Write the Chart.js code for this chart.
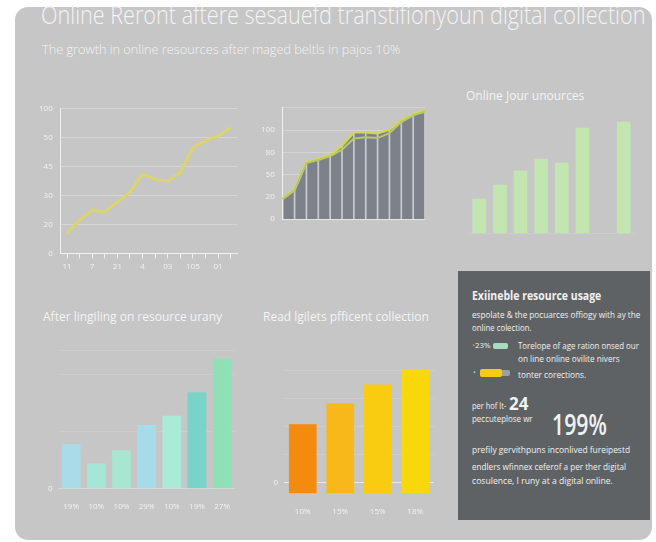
<!DOCTYPE html>
<html>
<head>
<meta charset="utf-8">
<script src="https://cdn.jsdelivr.net/npm/chart.js@4/dist/chart.umd.min.js"></script>
<style>
  html, body { margin: 0; padding: 0; background: #ffffff; }
  body { width: 656px; height: 542px; position: relative; overflow: hidden; font-family: "Open Sans", sans-serif; }
  #panel { position: absolute; left: 15px; top: 7px; width: 637px; height: 533px; background: #c6c6c6; border-radius: 13px; overflow: hidden; }
  .abs { position: absolute; }
  .txt { color: #f4f4f4; white-space: nowrap; line-height: 1; transform-origin: left top; }
  #title { left: 41px; top: 2px; font-size: 25px; font-weight: 300; }
  #subtitle { left: 42px; top: 44px; font-size: 12px; font-weight: 300; }
  .ctitle { font-size: 12px; font-weight: 400; }
  #dark { left: 458px; top: 271px; width: 192px; height: 249px; background: #5e6265; }
  #dark .txt { position: absolute; color: #f2f2f2; font-size: 9px; }
  .sw { position: absolute; border-radius: 2px; }
  canvas { position: absolute; }
</style>
</head>
<body>
<div id="panel"></div>
<div id="title" class="abs txt" data-w="604">Online Reront aftere sesauefd transtifionyoun digital collection</div>
<div id="subtitle" class="abs txt" data-w="358">The growth in online resources after maged beltls in pajos 10%</div>

<canvas id="c1" style="left:31px;top:96px" width="212" height="180"></canvas>
<canvas id="c2" style="left:253px;top:95px" width="172" height="137"></canvas>

<div class="abs txt ctitle" style="left:466px;top:90px">Online Jour unources</div>
<canvas id="c3" style="left:469px;top:115px" width="165" height="126"></canvas>

<div class="abs txt ctitle" style="left:43px;top:311px">After lingiling on resource urany</div>
<canvas id="c4" style="left:42px;top:340px" width="194" height="178"></canvas>

<div class="abs txt ctitle" style="left:263px;top:311px">Read lgilets pfficent collection</div>
<canvas id="c5" style="left:262px;top:349px" width="172" height="174"></canvas>

<div id="dark" class="abs">
  <div class="txt" style="left:14px;top:18px;font-size:13px;font-weight:700" data-w="129">Exiineble resource usage</div>
  <div class="txt" style="left:14px;top:39px" data-w="168">espolate &amp; the pocuarces offiogy with ay the</div>
  <div class="txt" style="left:14px;top:52px" data-w="60">online colection.</div>
  <div class="txt" style="left:14px;top:71px;font-size:7.5px" data-w="19"><span style="color:#e0a030">•</span>23%</div>
  <div class="sw" style="left:35px;top:72px;width:15px;height:6px;background:#a8dcc0"></div>
  <div class="txt" style="left:60px;top:70px" data-w="121">Torelope of age ration onsed our</div>
  <div class="txt" style="left:60px;top:83px" data-w="102">on line online ovilite nivers</div>
  <div class="txt" style="left:15px;top:97px;font-size:8px;color:#9cc8e0">•</div>
  <div class="sw" style="left:22px;top:99px;width:30px;height:6px;background:#a0a0a0"></div>
  <div class="sw" style="left:22px;top:98px;width:22px;height:8px;background:#f4cc10"></div>
  <div class="txt" style="left:60px;top:99px" data-w="68">tonter corections.</div>
  <div class="txt" style="left:14px;top:130px" data-w="34">per hof lt-</div>
  <div class="txt" style="left:51px;top:124px;font-size:17px;font-weight:700">24</div>
  <div class="txt" style="left:14px;top:143px" data-w="61">peccuteplose wr</div>
  <div class="txt" style="left:94px;top:138px;font-size:29px;font-weight:600" data-w="55">199%</div>
  <div class="txt" style="left:14px;top:174px" data-w="158">prefily gervithpuns inconlived fureipestd</div>
  <div class="txt" style="left:14px;top:191px" data-w="154">endlers wfinnex ceferof a per ther digital</div>
  <div class="txt" style="left:14px;top:205px" data-w="141">cosulence, I runy at a digital online.</div>
</div>

<script>
// chart 1: growth line
const growthLabels = ["11", "", "7", "", "21", "", "4", "", "03", "", "105", "", "01", ""];
const growthValues = [0.7, 1.15, 1.5, 1.43, 1.78, 2.12, 2.74, 2.56, 2.5, 2.8, 3.66, 3.9, 4.06, 4.35];
const growthTicks = ["0", "20", "30", "45", "50", "100"];

// chart 2: area
const areaLabels = ["", "", "", "", "", "", "", "", "", "", "", "", ""];
const areaUpper = [0.93, 1.36, 2.57, 2.71, 2.86, 3.3, 3.9, 3.9, 3.86, 4.02, 4.43, 4.72, 4.88];
const areaLower = [0.9, 1.3, 2.52, 2.66, 2.82, 3.12, 3.62, 3.68, 3.64, 3.86, 4.36, 4.66, 4.82];
const areaTicks = ["0", "20", "50", "80", "100"];

// chart 3: green bars
const jourLabels = ["a", "b", "c", "d", "e", "f", "g", "h"];
const jourValues = [34, 48, 62, 74, 70, 105, null, 111];

// chart 4: after lingiling
const usageLabels = ["19%", "10%", "10%", "29%", "10%", "19%", "27%"];
const usageValues = [4.3, 2.4, 3.7, 6.2, 7.1, 9.4, 12.7];
const usageColors = ["#a9dbe8", "#a6e6d6", "#a8e6d2", "#a6dcea", "#acead8", "#79d3c6", "#8fe0b4"];

// chart 5: efficient collection
const readLabels = ["10%", "15%", "15%", "18%"];
const readValues = [2.07, 2.82, 3.5, 4.04];
const readColors = ["#f48a0e", "#f9b81a", "#f9cc12", "#f8d80a"];

Chart.defaults.font.family = "'Open Sans', sans-serif";
Chart.defaults.color = "#f2f2f2";
Chart.defaults.animation = false;
Chart.defaults.responsive = false;

const noLegend = { legend: { display: false }, tooltip: { enabled: false } };

// squeeze text blocks to the widths seen in the picture
document.querySelectorAll("[data-w]").forEach(el => {
  const w = el.offsetWidth;
  el.style.transform = "scaleX(" + (Number(el.dataset.w) / w) + ")";
});

new Chart(document.getElementById("c1"), {
  type: "line",
  data: {
    labels: growthLabels,
    datasets: [{
      data: growthValues,
      borderColor: "#dcd46c",
      borderWidth: 3,
      pointRadius: 0,
      tension: 0
    }]
  },
  options: {
    plugins: noLegend,
    layout: { padding: { right: 6 } },
    scales: {
      x: {
        offset: true,
        grid: { display: true, drawOnChartArea: false, color: "#f0f0f0", tickLength: 5 },
        border: { color: "#f0f0f0" },
        ticks: { font: { size: 8 }, autoSkip: false, maxRotation: 0, padding: 4 }
      },
      y: {
        min: 0, max: 5,
        grid: { color: "#d6d6d6", drawTicks: false },
        border: { color: "#f0f0f0" },
        ticks: { stepSize: 1, font: { size: 8 }, padding: 8, callback: v => growthTicks[v] }
      }
    }
  }
});

new Chart(document.getElementById("c2"), {
  data: {
    labels: areaLabels,
    datasets: [
      { type: "line", data: areaLower, borderColor: "#b6c86a", borderWidth: 2, pointRadius: 0, fill: false, order: 0 },
      { type: "line", data: areaUpper, borderColor: "#d4d65a", borderWidth: 2.5, pointRadius: 0, fill: false, order: 0 },
      { type: "bar", data: areaUpper, backgroundColor: "rgba(235,235,240,0.7)", barThickness: 1, order: 1 },
      { type: "line", data: areaUpper, borderColor: "#6e7178", borderWidth: 1, pointRadius: 0, fill: "origin", backgroundColor: "#7d8189", order: 2 }
    ]
  },
  options: {
    plugins: noLegend,
    scales: {
      x: {
        offset: false,
        grid: { display: false },
        border: { color: "#e6e6e6" },
        ticks: { display: false }
      },
      y: {
        min: 0, max: 5,
        grid: { color: "#d4d4d4", drawTicks: false },
        border: { color: "#f0f0f0" },
        ticks: { stepSize: 1, font: { size: 8 }, padding: 8, callback: v => areaTicks[v] || "" }
      }
    }
  }
});

new Chart(document.getElementById("c3"), {
  type: "bar",
  data: {
    labels: jourLabels,
    datasets: [{ data: jourValues, backgroundColor: "#c3e6b1", barThickness: 13 }]
  },
  options: {
    plugins: noLegend,
    scales: {
      x: { grid: { display: false }, border: { color: "#cdcdcd" }, ticks: { display: false } },
      y: { min: 0, max: 118, display: false }
    }
  }
});

new Chart(document.getElementById("c4"), {
  type: "bar",
  data: {
    labels: usageLabels,
    datasets: [{ data: usageValues, backgroundColor: usageColors, barThickness: 18 }]
  },
  options: {
    plugins: noLegend,
    scales: {
      x: {
        grid: { display: false },
        border: { color: "#d8d8d8" },
        ticks: { font: { size: 8 }, padding: 6 }
      },
      y: {
        min: 0, max: 13.5,
        grid: { color: ctx => ctx.tick.value === 0 ? "#d8d8d8" : "#cdcdcd", drawTicks: false },
        border: { display: false },
        ticks: { stepSize: 5.6, font: { size: 8 }, padding: 6, callback: v => v === 0 ? "0" : "" }
      }
    }
  }
});

new Chart(document.getElementById("c5"), {
  type: "bar",
  data: {
    labels: readLabels,
    datasets: [{ data: readValues, backgroundColor: readColors, barThickness: 27, base: -0.4 }]
  },
  options: {
    plugins: noLegend,
    scales: {
      x: {
        grid: { display: false },
        border: { display: false },
        ticks: { font: { size: 8 }, padding: 6 }
      },
      y: {
        min: -0.4, max: 4.4,
        afterFit: scale => { scale.width = 22; },
        grid: {
          color: ctx => ctx.tick.value === 0 ? "#e8e8e8" : (Number.isInteger(ctx.tick.value) ? "#cecece" : "rgba(0,0,0,0)"),
          drawTicks: false
        },
        border: { display: false },
        ticks: { stepSize: 1, font: { size: 8 }, padding: 6, callback: v => v === 0 ? "0" : "" }
      }
    }
  }
});
</script>
</body>
</html>
